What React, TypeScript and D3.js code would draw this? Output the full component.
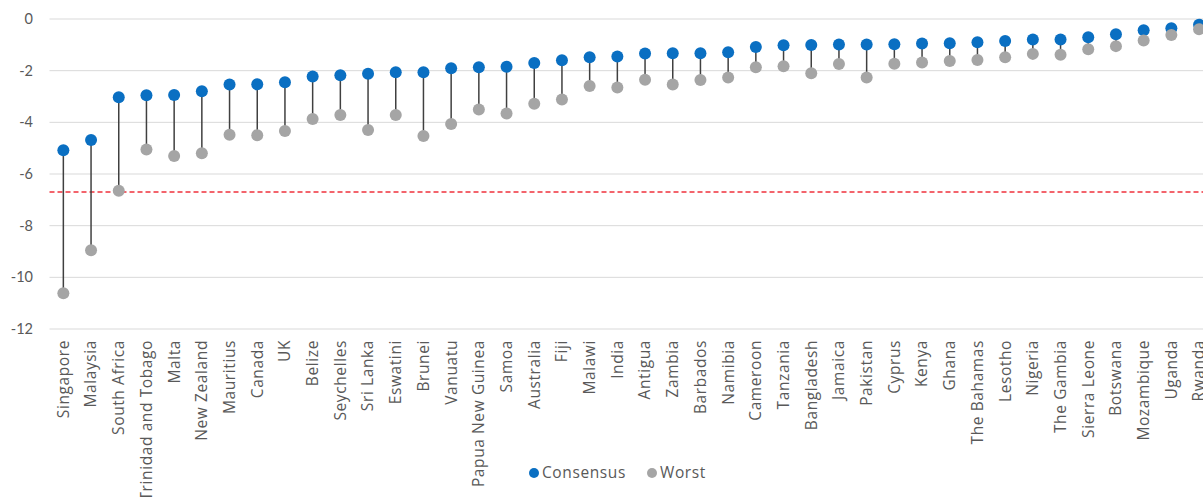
import React, { useEffect, useRef } from 'react';
import * as d3 from 'd3';

const countries = [
  'Singapore', 'Malaysia', 'South Africa', 'Trinidad and Tobago', 'Malta', 'New Zealand',
  'Mauritius', 'Canada', 'UK', 'Belize', 'Seychelles', 'Sri Lanka', 'Eswatini', 'Brunei',
  'Vanuatu', 'Papua New Guinea', 'Samoa', 'Australia', 'Fiji', 'Malawi', 'India', 'Antigua',
  'Zambia', 'Barbados', 'Namibia', 'Cameroon', 'Tanzania', 'Bangladesh', 'Jamaica', 'Pakistan',
  'Cyprus', 'Kenya', 'Ghana', 'The Bahamas', 'Lesotho', 'Nigeria', 'The Gambia', 'Sierra Leone',
  'Botswana', 'Mozambique', 'Uganda', 'Rwanda',
];

const consensus = [
  -5.08, -4.68, -3.03, -2.95, -2.94, -2.8, -2.54, -2.53, -2.45, -2.23, -2.18, -2.12, -2.06, -2.06,
  -1.91, -1.87, -1.85, -1.7, -1.6, -1.48, -1.45, -1.34, -1.33, -1.33, -1.29, -1.08, -1.02, -1.01,
  -0.99, -0.99, -0.98, -0.95, -0.94, -0.9, -0.85, -0.79, -0.79, -0.71, -0.59, -0.44, -0.36, -0.22,
];

const worst = [
  -10.62, -8.95, -6.65, -5.05, -5.3, -5.2, -4.48, -4.5, -4.34, -3.87, -3.72, -4.3, -3.72, -4.53,
  -4.06, -3.5, -3.66, -3.28, -3.12, -2.59, -2.65, -2.35, -2.54, -2.36, -2.26, -1.87, -1.83, -2.1,
  -1.74, -2.26, -1.73, -1.68, -1.63, -1.59, -1.48, -1.35, -1.38, -1.17, -1.05, -0.83, -0.62, -0.4,
];

const yTicks = [0, -2, -4, -6, -8, -10, -12];
const threshold = -6.7;

const W = 1203;
const H = 497;

const App: React.FC = () => {
  const svgRef = useRef<SVGSVGElement>(null);

  useEffect(() => {
    if (!svgRef.current) return;
    const svg = d3.select(svgRef.current);
    svg.selectAll('*').remove();

    const left = 49.5;
    const step = 27.7;
    const x = d3.scaleBand<string>().domain(countries).range([left, left + step * countries.length]);
    const y = d3.scaleLinear().domain([-12, 0]).range([329, 19]);
    const cx = (c: string) => (x(c) ?? 0) + x.bandwidth() / 2;
    const labelFont = '"Open Sans", Lato, sans-serif';

    // gridlines
    svg.append('g')
      .selectAll('line')
      .data(yTicks)
      .enter()
      .append('line')
      .attr('x1', left)
      .attr('x2', W)
      .attr('y1', d => y(d))
      .attr('y2', d => y(d))
      .attr('stroke', '#d9d9d9')
      .attr('stroke-width', 1);

    // y labels
    svg.append('g')
      .selectAll('text')
      .data(yTicks)
      .enter()
      .append('text')
      .attr('x', 33)
      .attr('y', d => y(d))
      .attr('dy', '0.35em')
      .attr('text-anchor', 'end')
      .attr('fill', '#595959')
      .style('font-family', 'Lato, sans-serif')
      .style('font-size', '14.5px')
      .text(d => d);

    // threshold line
    svg.append('line')
      .attr('x1', left)
      .attr('x2', W)
      .attr('y1', y(threshold))
      .attr('y2', y(threshold))
      .attr('stroke', '#f0323c')
      .attr('stroke-width', 1.5)
      .attr('stroke-dasharray', '5,3');

    const rows = countries.map((c, i) => ({ c, a: consensus[i], b: worst[i] }));

    // stems
    svg.append('g')
      .selectAll('line')
      .data(rows)
      .enter()
      .append('line')
      .attr('x1', d => cx(d.c))
      .attr('x2', d => cx(d.c))
      .attr('y1', d => y(d.a))
      .attr('y2', d => y(d.b))
      .attr('stroke', '#404040')
      .attr('stroke-width', 1.5);

    svg.append('g')
      .selectAll('circle')
      .data(rows)
      .enter()
      .append('circle')
      .attr('cx', d => cx(d.c))
      .attr('cy', d => y(d.a))
      .attr('r', 6)
      .attr('fill', '#0a6fc2');

    svg.append('g')
      .selectAll('circle')
      .data(rows)
      .enter()
      .append('circle')
      .attr('cx', d => cx(d.c))
      .attr('cy', d => y(d.b))
      .attr('r', 6)
      .attr('fill', '#a5a5a5');

    // category labels
    svg.append('g')
      .selectAll('text')
      .data(countries)
      .enter()
      .append('text')
      .attr('transform', d => `translate(${cx(d)},340) rotate(-90)`)
      .attr('dy', '0.35em')
      .attr('text-anchor', 'end')
      .attr('fill', '#595959')
      .style('font-family', labelFont)
      .style('font-size', '15.5px')
      .style('letter-spacing', '0.6px')
      .text(d => d);

    // legend
    const lg = svg.append('g')
      .style('font-family', labelFont)
      .style('font-size', '15.5px')
      .style('letter-spacing', '0.6px');
    const items = [
      { label: 'Consensus', color: '#0a6fc2', x: 534 },
      { label: 'Worst', color: '#a5a5a5', x: 652 },
    ];
    items.forEach(it => {
      lg.append('circle').attr('cx', it.x).attr('cy', 473).attr('r', 5).attr('fill', it.color);
      lg.append('text')
        .attr('x', it.x + 8)
        .attr('y', 473)
        .attr('dy', '0.35em')
        .attr('fill', '#595959')
        .text(it.label);
    });
  }, []);

  return (
    <div style={{ position: 'absolute', left: 0, top: 0, width: W, height: H, overflow: 'hidden', background: '#fff' }}>
      <svg ref={svgRef} width={W} height={H} />
    </div>
  );
};

export default App;
